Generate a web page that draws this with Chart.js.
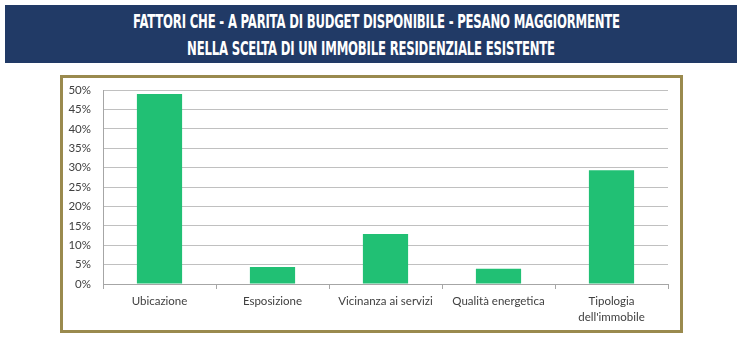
<!DOCTYPE html>
<html><head><meta charset="utf-8">
<script src="https://cdn.jsdelivr.net/npm/chart.js@4/dist/chart.umd.min.js"></script>
<style>
html,body{margin:0;padding:0;background:#fff;width:748px;height:343px;overflow:hidden;}
#banner{position:absolute;left:5px;top:5px;width:732px;height:58px;background:#213a66;color:#fff;
 font-family:"Liberation Sans Narrow","DejaVu Sans Condensed","Liberation Sans",sans-serif;font-weight:bold;text-align:center;}
#banner div{position:absolute;left:0;width:100%;font-size:20px;line-height:24px;transform:scaleX(0.65);letter-spacing:-0.3px;white-space:nowrap;}
#box{position:absolute;left:60px;top:75px;width:623px;height:258px;border:3px solid #9a8a4e;box-sizing:border-box;background:#fff;}
#wrap{position:absolute;left:0;top:0;width:617px;height:252px;}
</style></head><body>
<div id="banner"><div style="top:4px">FATTORI CHE - A PARITA DI BUDGET DISPONIBILE - PESANO MAGGIORMENTE</div><div style="top:31px">NELLA SCELTA DI UN IMMOBILE RESIDENZIALE ESISTENTE</div></div>
<div id="box"><div id="wrap"><canvas id="c"></canvas></div></div>
<script>
const categories = ["Ubicazione","Esposizione","Vicinanza ai servizi","Qualità energetica",["Tipologia","dell'immobile"]];
const values = [49.0, 4.4, 12.9, 3.9, 29.3];
const yTicks = [0,5,10,15,20,25,30,35,40,45,50];

new Chart(document.getElementById('c'), {
  type: 'bar',
  data: { labels: categories, datasets: [{ data: values, backgroundColor: '#21c074', borderWidth: 0, barPercentage: 0.4, categoryPercentage: 1.0 }] },
  options: {
    responsive: true, maintainAspectRatio: false, animation: false,
    layout: { padding: { top: 12, right: 12, left: 0, bottom: 0 } },
    plugins: { legend: { display: false }, tooltip: { enabled: false } },
    scales: {
      x: {
        offset: true,
        grid: { display: true, drawOnChartArea: false, drawTicks: true, tickLength: 5, color: '#a6a6a6', offset: true },
        border: { display: true, color: '#a6a6a6' },
        ticks: { color: '#404040', font: { family: 'Lato, "Open Sans", sans-serif', size: 11.5, lineHeight: 1.4 }, padding: 4, maxRotation: 0 },
        afterFit: s => { s.height = 46; s.paddingLeft = 0; s.paddingRight = 0; }
      },
      y: {
        min: 0, max: 50,
        afterBuildTicks: s => { s.ticks = yTicks.map(v => ({ value: v })); },
        grid: { color: '#c0c0c0', drawTicks: false },
        border: { display: true, color: '#a6a6a6' },
        ticks: { color: '#404040', font: { family: 'Lato, "Open Sans", sans-serif', size: 11.5 }, padding: 12, callback: v => v + '%' },
        afterFit: s => { s.width = 40; s.paddingTop = 0; s.paddingBottom = 0; }
      }
    }
  }
});
</script>
</body></html>
